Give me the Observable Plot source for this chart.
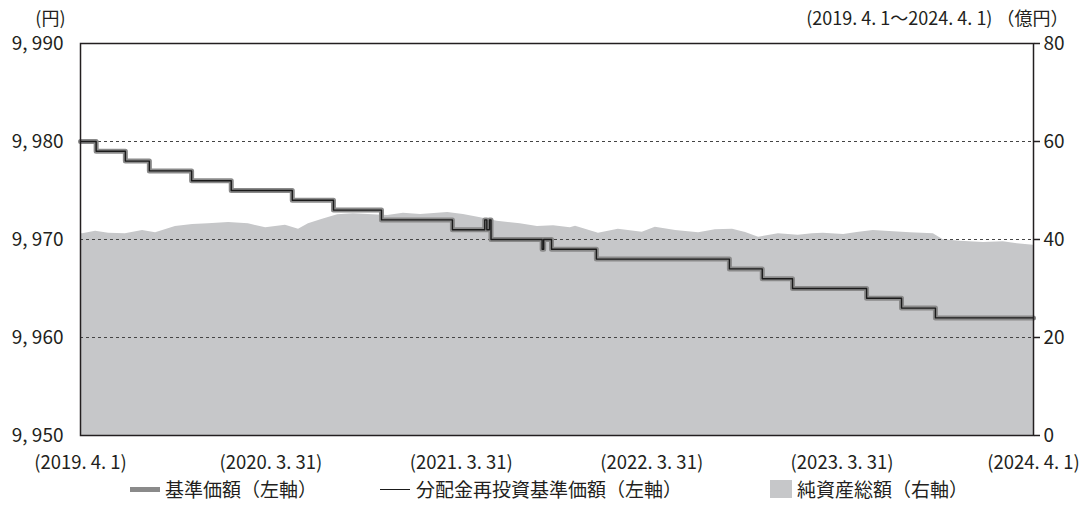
<!DOCTYPE html>
<html><head><meta charset="utf-8">
<script src="https://cdn.jsdelivr.net/npm/d3@7"></script>
<script src="https://cdn.jsdelivr.net/npm/@observablehq/plot@0.6"></script>
<style>
body{margin:0;background:#fff;font-family:"Noto Sans CJK JP",sans-serif;color:#231f20;}
#chart{position:relative;width:1088px;height:520px;overflow:hidden;}
.lg{position:absolute;top:478px;height:22px;line-height:22px;font-size:19px;white-space:nowrap;}
.sw{position:absolute;}
</style></head><body><div id="chart"></div>
<script>
// 基準価額・分配金再投資基準価額（同値、円）
const stepDates = ["2019-04-01","2019-05-01","2019-06-26","2019-08-11","2019-10-31","2020-01-15","2020-05-11","2020-07-29","2020-10-29","2021-03-14","2021-05-15","2021-05-19","2021-05-24","2021-05-27","2021-09-02","2021-09-05","2021-09-20","2021-12-15","2022-08-27","2022-10-29","2022-12-26","2023-05-17","2023-07-23","2023-09-26","2024-04-01"];
const stepValues = [9980,9979,9978,9977,9976,9975,9974,9973,9972,9971,9972,9971,9972,9970,9969,9970,9969,9968,9967,9966,9965,9964,9963,9962,9962];
// 純資産総額（億円）
const assetDates = ["2019-04-01","2019-04-05","2019-04-30","2019-05-25","2019-06-26","2019-07-29","2019-08-23","2019-09-30","2019-11-02","2019-12-02","2020-01-10","2020-02-17","2020-03-21","2020-04-28","2020-05-23","2020-06-11","2020-07-08","2020-08-06","2020-09-05","2020-11-10","2020-12-10","2021-01-12","2021-03-05","2021-04-04","2021-05-07","2021-06-08","2021-07-22","2021-08-24","2021-09-24","2021-10-26","2021-11-05","2021-12-19","2022-01-26","2022-03-13","2022-04-07","2022-05-16","2022-06-29","2022-07-31","2022-09-02","2022-09-27","2022-10-22","2022-11-29","2023-01-06","2023-02-02","2023-02-23","2023-04-03","2023-04-29","2023-05-30","2023-07-08","2023-08-09","2023-09-22","2023-10-11","2023-11-13","2023-12-27","2024-02-03","2024-03-01","2024-04-01"];
const assetValues = [41.2,41.16,41.69,41.29,41.16,41.84,41.37,42.65,43.06,43.2,43.47,43.2,42.39,42.92,42.1,43.2,44.14,45.04,45.24,44.9,45.37,45.1,45.51,45.1,44.43,43.73,43.2,42.65,42.8,42.39,42.71,41.29,42.1,41.49,42.51,41.84,41.37,41.98,42.1,41.43,40.47,41.16,40.88,41.16,41.29,41.02,41.43,41.84,41.57,41.37,41.16,39.94,39.65,39.39,39.53,39.12,38.84];
// 軸
const leftTicks = [9950,9960,9970,9980,9990];
const leftTickLabels = ["9, 950","9, 960","9, 970","9, 980","9, 990"];
const rightTickLabels = ["0","20","40","60","80"];
const gridValues = [9960,9970,9980];
const xTickDates = ["2019-04-01","2020-03-31","2021-03-31","2022-03-31","2023-03-31","2024-04-01"];
const xTickLabels = ["(2019. 4. 1)","(2020. 3. 31)","(2021. 3. 31)","(2022. 3. 31)","(2023. 3. 31)","(2024. 4. 1)"];
const unitLeft = "(円)";
const periodRight = "(2019. 4. 1～2024. 4. 1) （億円）";
const legendLabels = ["基準価額（左軸）","分配金再投資基準価額（左軸）","純資産総額（右軸）"];

const steps = stepDates.map((d,i)=>({date:new Date(d+"T00:00:00Z"), value:stepValues[i]}));
const assets = assetDates.map((d,i)=>({date:new Date(d+"T00:00:00Z"), value:assetValues[i]}));
const xDates = xTickDates.map(d=>new Date(d+"T00:00:00Z"));
const xLab = new Map(xDates.map((d,i)=>[d.getTime(), xTickLabels[i]]));
const lLab = new Map(leftTicks.map((d,i)=>[d, leftTickLabels[i]]));
const rLab = new Map(leftTicks.map((d,i)=>[d, rightTickLabels[i]]));
const y0 = leftTicks[0];
const toLeft = v => y0 + v/2;   // 0–80 億円 → 9,950–9,990 円

const plot = Plot.plot({
  width:1088, height:476, marginTop:43, marginBottom:41, marginLeft:80, marginRight:55,
  style:{fontFamily:'"Noto Sans CJK JP", sans-serif', fontSize:"18px", color:"#231f20", background:"#fff"},
  x:{type:"utc", domain:[xDates[0], xDates[xDates.length-1]]},
  y:{domain:[9950,9990]},
  marks:[
    Plot.areaY(assets, {x:"date", y1:y0, y2:d=>toLeft(d.value), fill:"#c6c7c9"}),
    Plot.ruleY(gridValues, {stroke:"#444", strokeDasharray:"3,3", strokeWidth:1}),
    Plot.line(steps, {x:"date", y:"value", curve:"step-after", stroke:"#8a8a8a", strokeWidth:5}),
    Plot.line(steps, {x:"date", y:"value", curve:"step-after", stroke:"#1a1a1a", strokeWidth:1.4}),
    Plot.frame({stroke:"#231f20", strokeWidth:1.5}),
    Plot.axisY(leftTicks, {anchor:"left", tickSize:0, tickPadding:17, tickFormat:d=>lLab.get(d), label:null, fontSize:19}),
    Plot.axisY(leftTicks, {anchor:"right", tickSize:6, tickPadding:4, tickFormat:d=>rLab.get(d), label:null, fontSize:19, stroke:"#231f20", strokeWidth:1.5}),
    Plot.axisX(xDates, {anchor:"bottom", tickSize:0, tickPadding:20, tickFormat:d=>xLab.get(d.getTime()), label:null, fontSize:18.5}),
    Plot.text([unitLeft], {frameAnchor:"top-left", dx:-15, dy:-31, textAnchor:"end", fontSize:18, fill:"#231f20"}),
    Plot.text([periodRight], {frameAnchor:"top-right", dx:35, dy:-31.5, textAnchor:"end", fontSize:18, fill:"#231f20"})
  ]
});
const chart = document.getElementById("chart");
chart.appendChild(plot);

// 凡例
const legendSpecs = [
  {sx:130, sw:30, sh:5, sy:486.5, col:"#8a8a8a", tx:165},
  {sx:380, sw:30, sh:1.5, sy:488.5, col:"#1a1a1a", tx:416},
  {sx:770, sw:22, sh:18, sy:480, col:"#c6c7c9", tx:797}
];
legendSpecs.forEach((s,i)=>{
  const sw = document.createElement("div");
  sw.className="sw";
  Object.assign(sw.style,{left:s.sx+"px", top:s.sy+"px", width:s.sw+"px", height:s.sh+"px", background:s.col});
  chart.appendChild(sw);
  const t = document.createElement("div");
  t.className="lg"; t.style.left=s.tx+"px"; t.textContent=legendLabels[i];
  chart.appendChild(t);
});
</script></body></html>
